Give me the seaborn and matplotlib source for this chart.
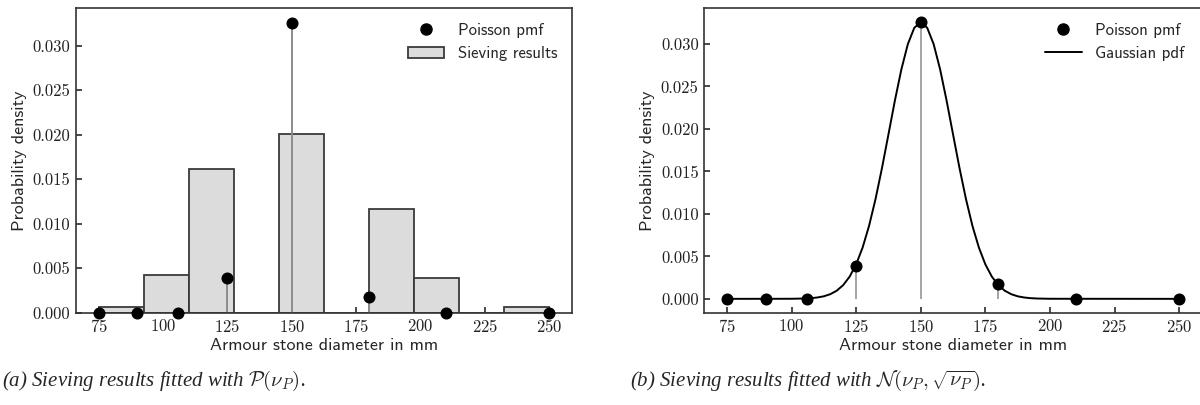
import numpy as np
import pandas as pd
import matplotlib
matplotlib.use("Agg")
import matplotlib.pyplot as plt
from matplotlib.ticker import FormatStrFormatter, MultipleLocator
from matplotlib.lines import Line2D
from matplotlib.patches import Patch
import seaborn as sns

# ---------------- data ----------------
bin_edges = [75, 92.5, 110, 127.5, 145, 162.5, 180, 197.5, 215, 232.5, 250]
bin_density = [0.0006, 0.0042, 0.0161, 0.0, 0.0201, 0.0, 0.0116, 0.0039, 0.0, 0.0006]

poisson_x = [75, 90, 106, 125, 150, 180, 210, 250]
poisson_pmf = [0.0, 0.0, 0.0, 0.0039, 0.0326, 0.0018, 0.0, 0.0]

gauss_x = [75, 100, 105, 107.5, 110, 112.5, 115, 117.5, 120, 122.5, 125, 127.5,
           130, 132.5, 135, 137.5, 140, 142.5, 145, 147.5, 150, 152.5, 155,
           157.5, 160, 162.5, 165, 167.5, 170, 172.5, 175, 177.5, 180, 182.5,
           185, 187.5, 190, 192.5, 195, 200, 250]
gauss_pdf = [0.0, 0.00001, 0.00004, 0.00008, 0.00016, 0.00030, 0.00055, 0.00096,
             0.00162, 0.00262, 0.00406, 0.00603, 0.00859, 0.01174, 0.01539,
             0.01935, 0.02334, 0.02700, 0.02997, 0.03190, 0.03257, 0.03190,
             0.02997, 0.02700, 0.02334, 0.01935, 0.01539, 0.01174, 0.00859,
             0.00603, 0.00406, 0.00262, 0.00162, 0.00096, 0.00055, 0.00030,
             0.00016, 0.00008, 0.00004, 0.00001, 0.0]

x_label = "Armour stone diameter in mm"
y_label = "Probability density"
caption_a = r"(a) Sieving results fitted with $\mathcal{P}(\nu_P)$."
caption_b = r"(b) Sieving results fitted with $\mathcal{N}(\nu_P, \sqrt{\nu_P})$."

# ---------------- style ----------------
sns.set_theme(style="white")
plt.rcParams.update({
    "font.family": ["cmss10", "DejaVu Sans"],
    "mathtext.fontset": "cm",
    "axes.formatter.use_mathtext": True,
    "axes.edgecolor": "#333333",
    "axes.linewidth": 1.2,
    "xtick.direction": "in",
    "ytick.direction": "in",
    "xtick.bottom": True,
    "ytick.left": True,
    "xtick.major.size": 4,
    "ytick.major.size": 4,
    "xtick.color": "#333333",
    "ytick.color": "#333333",
    "xtick.labelcolor": "#222222",
    "ytick.labelcolor": "#222222",
})

fig = plt.figure(figsize=(12, 4.05), dpi=100)
W, H = 1200.0, 405.0
ax1 = fig.add_axes([76 / W, 1 - 312.7 / H, 496 / W, 304.7 / H])
ax2 = fig.add_axes([704.3 / W, 1 - 312.7 / H, 497.5 / W, 304.7 / H])

stem_col = "#8c8c8c"
edge_col = "#3a3a3a"
fill_col = "#dcdcdc"

centres = [(bin_edges[i] + bin_edges[i + 1]) / 2 for i in range(len(bin_density))]
hist_df = pd.DataFrame({"x": centres, "w": bin_density})
pois_df = pd.DataFrame({"x": poisson_x, "y": poisson_pmf})
gauss_df = pd.DataFrame({"x": gauss_x, "y": gauss_pdf})

# ---- left panel ----
sns.histplot(data=hist_df, x="x", weights="w", bins=bin_edges, stat="count",
             color=fill_col, edgecolor=edge_col, linewidth=1.3, alpha=1.0,
             ax=ax1, zorder=1)
ax1.vlines(poisson_x, 0, poisson_pmf, color=stem_col, linewidth=1.4, zorder=2)
sns.scatterplot(data=pois_df, x="x", y="y", color="black", s=75,
                edgecolor="black", linewidth=0, ax=ax1, zorder=3, clip_on=False)
handles1 = [Line2D([], [], marker="o", linestyle="none", color="black", markersize=8),
            Patch(facecolor=fill_col, edgecolor=edge_col, linewidth=1.3)]
ax1.legend(handles1, ["Poisson pmf", "Sieving results"], frameon=False,
           loc="upper right", fontsize=12, handlelength=2.2)

# ---- right panel ----
ax2.vlines(poisson_x, 0, poisson_pmf, color=stem_col, linewidth=1.1, zorder=1)
sns.lineplot(data=gauss_df, x="x", y="y", color="black", linewidth=1.4, ax=ax2,
             zorder=2)
sns.scatterplot(data=pois_df, x="x", y="y", color="black", s=75,
                edgecolor="black", linewidth=0, ax=ax2, zorder=3)
handles2 = [Line2D([], [], marker="o", linestyle="none", color="black", markersize=8),
            Line2D([], [], color="black", linewidth=1.4)]
ax2.legend(handles2, ["Poisson pmf", "Gaussian pdf"], frameon=False,
           loc="upper right", fontsize=12, handlelength=2.2,
           bbox_to_anchor=(0.995, 1.0))

for ax in (ax1, ax2):
    ax.set_xlabel(x_label, fontsize=13, labelpad=2)
    ax.set_ylabel(y_label, fontsize=13, labelpad=4)
    ax.xaxis.set_major_locator(MultipleLocator(25))
    ax.yaxis.set_major_locator(MultipleLocator(0.005))
    ax.yaxis.set_major_formatter(FormatStrFormatter("%.3f"))
    for lab in ax.get_xticklabels() + ax.get_yticklabels():
        lab.set_fontfamily("cmr10")
        lab.set_fontsize(12)
    for sp in ax.spines.values():
        sp.set_visible(True)
    ax.tick_params(axis="both", which="major", pad=4)

ax1.set_xlim(66.25, 258.75)
ax1.set_ylim(0, 0.03423)
ax2.set_xlim(66.25, 258.75)
ax2.set_ylim(-0.00163, 0.03423)

fig.text(2 / W, 1 - 381 / H, caption_a, fontsize=15, fontstyle="italic",
         family="Liberation Serif", va="center", ha="left")
fig.text(630 / W, 1 - 381 / H, caption_b, fontsize=15, fontstyle="italic",
         family="Liberation Serif", va="center", ha="left")

fig.savefig("out.png", dpi=100)
